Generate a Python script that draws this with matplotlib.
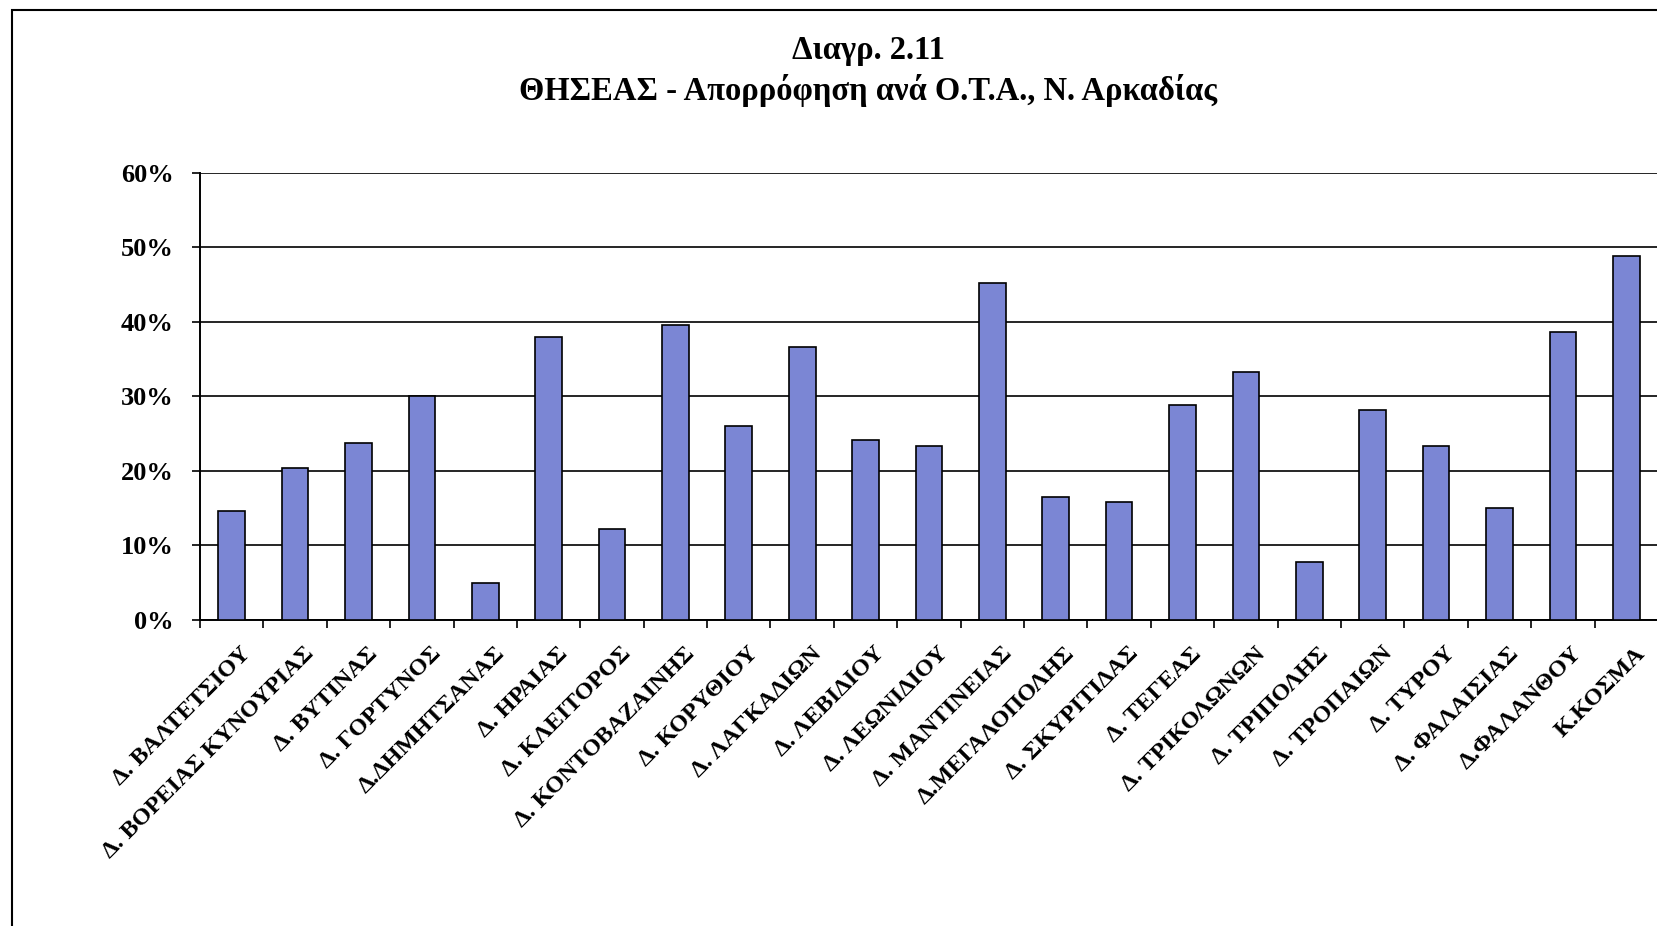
import matplotlib
matplotlib.use('Agg')
import matplotlib.pyplot as plt
from matplotlib.patches import Rectangle
from matplotlib.ticker import FixedLocator, PercentFormatter
import matplotlib.transforms as mtransforms
import numpy as np

plt.rcParams['font.family'] = ['Liberation Serif', 'DejaVu Serif']
plt.rcParams['font.weight'] = 'bold'

labels = ['Δ. ΒΑΛΤΕΤΣΙΟΥ', 'Δ. ΒΟΡΕΙΑΣ ΚΥΝΟΥΡΙΑΣ', 'Δ. ΒΥΤΙΝΑΣ', 'Δ. ΓΟΡΤΥΝΟΣ',
          'Δ.ΔΗΜΗΤΣΑΝΑΣ', 'Δ. ΗΡΑΙΑΣ', 'Δ. ΚΛΕΙΤΟΡΟΣ', 'Δ. ΚΟΝΤΟΒΑΖΑΙΝΗΣ',
          'Δ. ΚΟΡΥΘΙΟΥ', 'Δ. ΛΑΓΚΑΔΙΩΝ', 'Δ. ΛΕΒΙΔΙΟΥ', 'Δ. ΛΕΩΝΙΔΙΟΥ',
          'Δ. ΜΑΝΤΙΝΕΙΑΣ', 'Δ.ΜΕΓΑΛΟΠΟΛΗΣ', 'Δ. ΣΚΥΡΙΤΙΔΑΣ', 'Δ. ΤΕΓΕΑΣ',
          'Δ. ΤΡΙΚΟΛΩΝΩΝ', 'Δ. ΤΡΙΠΟΛΗΣ', 'Δ. ΤΡΟΠΑΙΩΝ', 'Δ. ΤΥΡΟΥ',
          'Δ. ΦΑΛΑΙΣΙΑΣ', 'Δ.ΦΑΛΑΝΘΟΥ', 'Κ.ΚΟΣΜΑ']
absorption = [14.6, 20.4, 23.7, 30.1, 5.0, 38.0, 12.2, 39.6, 26.1, 36.6, 24.1, 23.3,
              45.2, 16.5, 15.9, 28.8, 33.3, 7.8, 28.2, 23.4, 15.0, 38.6, 48.9]
yticks = [0, 10, 20, 30, 40, 50, 60]

fig = plt.figure(figsize=(16.58, 9.26), dpi=100)
ax = fig.add_axes([0.1206, 0.3305, 0.8794, 0.4827])

x = np.arange(len(labels))
ax.bar(x, absorption, width=0.42, color='#7b86d4', edgecolor='black', linewidth=1.2, zorder=3)

ax.set_xlim(-0.5, len(labels) - 0.5)
ax.set_ylim(0, 60)
ax.set_yticks(yticks)
ax.yaxis.set_major_formatter(PercentFormatter(decimals=0))
ax.grid(axis='y', color='black', linewidth=1.2, zorder=0)

ax.set_xticks(x)
ax.set_xticklabels(labels, rotation=45, ha='right', va='center', rotation_mode='anchor', fontsize=17.5)
ax.tick_params(axis='x', which='major', length=0, pad=22)
# nudge labels right a little, as in the original
offset = mtransforms.ScaledTranslation(0.16, 0, fig.dpi_scale_trans)
for lab in ax.get_xticklabels():
    lab.set_transform(lab.get_transform() + offset)
ax.xaxis.set_minor_locator(FixedLocator(np.arange(-0.5, len(labels), 1.0)))
ax.tick_params(axis='x', which='minor', length=6, width=1.2, direction='out')
ax.tick_params(axis='y', length=6, width=1.2, labelsize=19, pad=13)

for s in ['top', 'right']:
    ax.spines[s].set_visible(False)
for s in ['left', 'bottom']:
    ax.spines[s].set_linewidth(1.4)

fig.text(0.5236, 0.946, 'Διαγρ. 2.11', ha='center', va='center', fontsize=23.5, fontweight='bold')
fig.text(0.5236, 0.902, 'ΘΗΣΕΑΣ - Απορρόφηση ανά Ο.Τ.Α., Ν. Αρκαδίας', ha='center', va='center',
         fontsize=23.5, fontweight='bold')

# outer chart frame
fig.patches.append(Rectangle((0.0075, -0.1), 1.1, 1.089, transform=fig.transFigure,
                             fill=False, edgecolor='black', linewidth=1.5))

fig.savefig('out.png', dpi=100)
